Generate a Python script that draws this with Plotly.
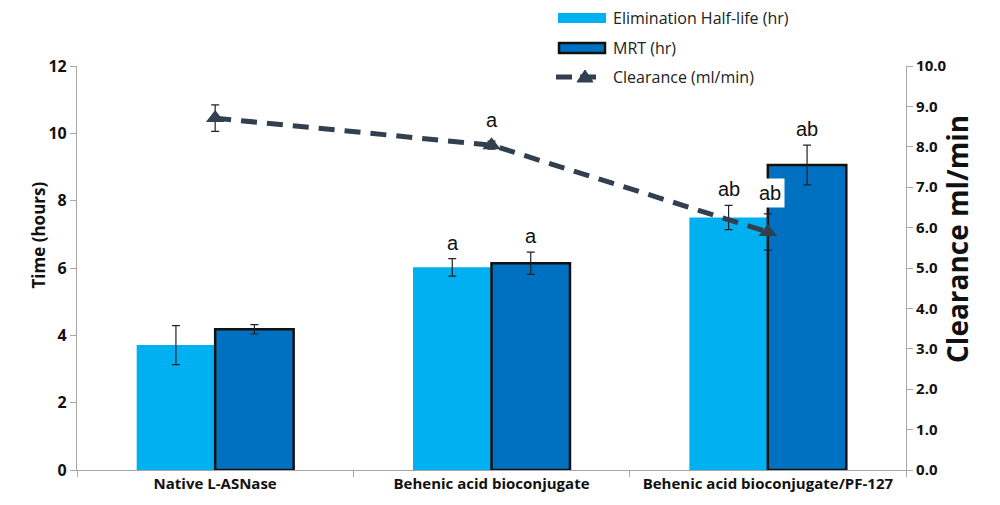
import plotly.graph_objects as go

categories = ["Native L-ASNase", "Behenic acid bioconjugate", "Behenic acid bioconjugate/PF-127"]

half_life = [3.71, 6.02, 7.50]
half_life_err = [0.58, 0.26, 0.36]

mrt = [4.18, 6.14, 9.06]
mrt_err = [0.14, 0.33, 0.59]

clearance = [8.71, 8.04, 5.89]
clearance_err = [0.33, 0.10, 0.45]

half_life_marks = ["", "a", "ab"]
mrt_marks = ["", "a", "ab"]
clearance_marks = ["", "a", "ab"]

series_names = ["Elimination Half-life (hr)", "MRT (hr)", "Clearance (ml/min)"]

LIGHT = "#00B0F0"
DARK = "#0070C0"
NAVY = "#323F4F"
AXIS = "#A6A6A6"
FONT = "Open Sans"

W, H = 1000, 505
L, R, T, B = 77, 94, 66, 35


def px_x(p):
    return (p - L) / (W - L - R)


def px_y(p):
    return (H - B - p) / (H - T - B)


fig = go.Figure()

fig.add_trace(go.Bar(
    x=categories, y=half_life, name=series_names[0],
    marker=dict(color=LIGHT, line=dict(width=0)),
    error_y=dict(type="data", array=half_life_err, color="#222222", thickness=1.2, width=4),
    showlegend=False,
))
fig.add_trace(go.Bar(
    x=categories, y=mrt, name=series_names[1],
    marker=dict(color=DARK, line=dict(color="#111111", width=2.5)),
    error_y=dict(type="data", array=mrt_err, color="#222222", thickness=1.2, width=4),
    showlegend=False,
))
fig.add_trace(go.Scatter(
    x=categories, y=clearance, name=series_names[2], yaxis="y2",
    mode="lines+markers",
    line=dict(color=NAVY, width=5, dash="16px,10px"),
    marker=dict(symbol="triangle-up", size=16, color=NAVY),
    error_y=dict(type="data", array=clearance_err, color="#222222", thickness=1.2, width=4),
    showlegend=False,
))

annotations = []
letter_font = dict(family="Liberation Sans Narrow, Liberation Sans", size=20, color="#111111")
for cat, v, e, t in zip(categories, half_life, half_life_err, half_life_marks):
    if t:
        annotations.append(dict(x=cat, y=v + e, xref="x", yref="y", text=t, showarrow=False,
                                xshift=-39, yshift=3, yanchor="bottom", font=letter_font))
for cat, v, e, t in zip(categories, mrt, mrt_err, mrt_marks):
    if t:
        annotations.append(dict(x=cat, y=v + e, xref="x", yref="y", text=t, showarrow=False,
                                xshift=39, yshift=3, yanchor="bottom", font=letter_font))
# clearance letters above the markers; the last one sits on a white box
for i, (cat, v, t) in enumerate(zip(categories, clearance, clearance_marks)):
    if t:
        boxed = i == len(categories) - 1
        annotations.append(dict(x=cat, y=v, xref="x", yref="y2", text=t, showarrow=False,
                                xshift=2 if boxed else 0, yshift=39 if boxed else 25,
                                bgcolor="white" if boxed else None, borderpad=3,
                                font=letter_font))

# axis titles
annotations.append(dict(x=px_x(24), y=px_y(235), xref="paper", yref="paper", text="<b>Time (hours)</b>",
                        textangle=-90, showarrow=False, font=dict(family=FONT, size=17, color="#111111")))
annotations.append(dict(x=px_x(978), y=px_y(239), xref="paper", yref="paper", text="<b>Clearance ml/min</b>",
                        textangle=-90, showarrow=False, font=dict(family=FONT, size=28, color="#111111")))

# legend
legend_font = dict(family=FONT, size=16, color="#222222")
legend_rows = [18, 48, 77]
shapes = [
    dict(type="rect", xref="paper", yref="paper", x0=px_x(558), x1=px_x(606),
         y0=px_y(23), y1=px_y(13), fillcolor=LIGHT, line=dict(width=0)),
    dict(type="rect", xref="paper", yref="paper", x0=px_x(559), x1=px_x(605),
         y0=px_y(53), y1=px_y(43), fillcolor=DARK, line=dict(color="#111111", width=2.5)),
    dict(type="line", xref="paper", yref="paper", x0=px_x(556), x1=px_x(600),
         y0=px_y(77), y1=px_y(77), line=dict(color=NAVY, width=5, dash="16px,8px")),
    dict(type="path", xref="paper", yref="paper",
         path="M {} {} L {} {} L {} {} Z".format(px_x(577), px_y(82), px_x(585), px_y(70),
                                                 px_x(593), px_y(82)),
         fillcolor=NAVY, line=dict(color=NAVY, width=1)),
]
for name, row in zip(series_names, legend_rows):
    annotations.append(dict(x=px_x(611), y=px_y(row), xref="paper", yref="paper", text=name,
                            xanchor="left", yanchor="middle", showarrow=False, font=legend_font))

fig.update_layout(
    width=W, height=H,
    margin=dict(l=L, r=R, t=T, b=B, autoexpand=False),
    paper_bgcolor="white", plot_bgcolor="white",
    font=dict(family=FONT, color="#111111"),
    barmode="group", bargap=0.432, bargroupgap=0,
    showlegend=False,
    xaxis=dict(
        showline=True, linecolor=AXIS, linewidth=1.2,
        ticks="outside", tickson="boundaries", ticklen=6, tickcolor=AXIS,
        tickfont=dict(family=FONT, size=15, color="#111111", weight="bold"),
        showgrid=False,
    ),
    yaxis=dict(
        range=[0, 12], dtick=2, showgrid=False,
        showline=True, linecolor=AXIS, linewidth=1.2,
        ticks="outside", ticklen=6, tickcolor=AXIS,
        tickfont=dict(family=FONT, size=16, color="#111111", weight="bold"),
        zeroline=False,
    ),
    yaxis2=dict(
        range=[0, 10], dtick=1, tickformat=".1f", overlaying="y", side="right",
        showgrid=False, showline=True, linecolor=AXIS, linewidth=1.2,
        ticks="outside", ticklen=6, tickcolor=AXIS,
        tickfont=dict(family=FONT, size=15, color="#111111", weight="bold"),
        zeroline=False,
    ),
    annotations=annotations,
    shapes=shapes,
)

fig.write_html("out.html")
